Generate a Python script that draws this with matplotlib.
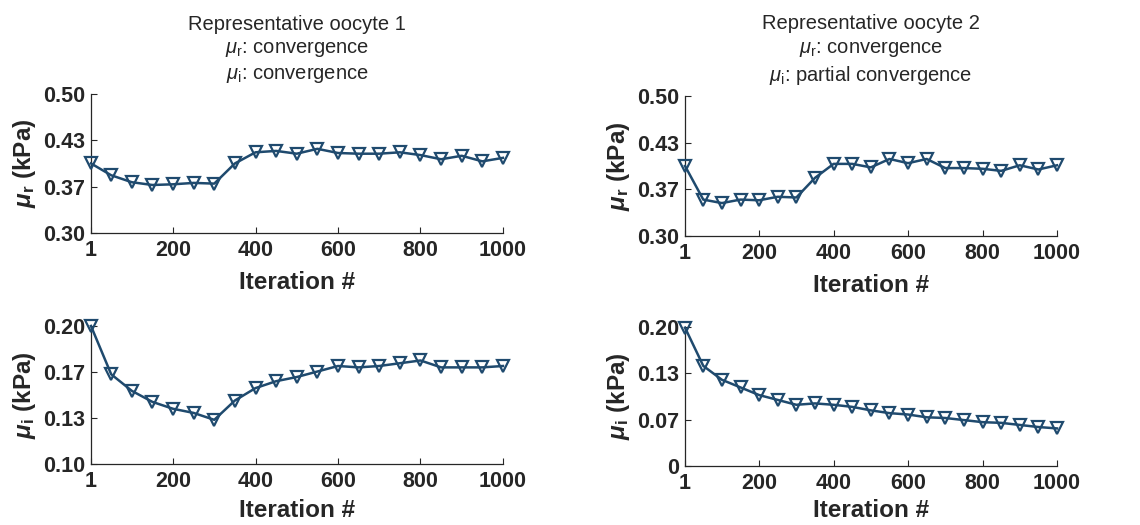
"""Convergence of mu_r and mu_i over inversion iterations for two representative oocytes."""

import matplotlib

matplotlib.use("Agg")
import matplotlib.pyplot as plt
import numpy as np

LINE = "#1f4a6e"
INK = "#262626"

iterations = [1] + list(range(50, 1001, 50))

mu_r_oocyte1 = [0.400, 0.383, 0.373, 0.369, 0.370, 0.372, 0.371, 0.400, 0.416, 0.418, 0.414,
                0.421, 0.415, 0.414, 0.414, 0.416, 0.412, 0.406, 0.411, 0.403, 0.408]
mu_i_oocyte1 = [0.200, 0.165, 0.153, 0.145, 0.140, 0.137, 0.132, 0.146, 0.155, 0.160, 0.163,
                0.167, 0.171, 0.170, 0.171, 0.173, 0.175, 0.170, 0.170, 0.170, 0.171]
mu_r_oocyte2 = [0.400, 0.352, 0.347, 0.352, 0.351, 0.356, 0.355, 0.383, 0.403, 0.403, 0.398,
                0.410, 0.404, 0.410, 0.397, 0.397, 0.396, 0.393, 0.401, 0.395, 0.401]
mu_i_oocyte2 = [0.199, 0.144, 0.124, 0.113, 0.102, 0.095, 0.088, 0.090, 0.088, 0.085, 0.080,
                0.076, 0.074, 0.070, 0.069, 0.066, 0.063, 0.062, 0.059, 0.056, 0.054]

x_ticks = [1, 200, 400, 600, 800, 1000]
mu_r_ticks = [0.30, 0.30 + 0.2 / 3, 0.30 + 0.4 / 3, 0.50]
mu_r_ticklabels = ["0.30", "0.37", "0.43", "0.50"]
mu_i1_ticks = [0.10, 0.10 + 0.1 / 3, 0.10 + 0.2 / 3, 0.20]
mu_i1_ticklabels = ["0.10", "0.13", "0.17", "0.20"]
mu_i2_ticks = [0.0, 0.2 / 3, 0.4 / 3, 0.20]
mu_i2_ticklabels = ["0", "0.07", "0.13", "0.20"]

titles = [
    "Representative oocyte 1\n$\\mu_\\mathrm{r}$: convergence\n$\\mu_\\mathrm{i}$: convergence",
    "Representative oocyte 2\n$\\mu_\\mathrm{r}$: convergence\n$\\mu_\\mathrm{i}$: partial convergence",
]

plt.rcParams.update(
    {
        "font.family": "Liberation Sans",
        "mathtext.fontset": "custom",
        "mathtext.rm": "Liberation Sans",
        "mathtext.it": "Liberation Sans:italic",
        "mathtext.bf": "Liberation Sans:bold",
        "mathtext.bfit": "Liberation Sans:bold:italic",
        "axes.edgecolor": INK,
        "xtick.color": INK,
        "ytick.color": INK,
        "text.color": INK,
        "axes.labelcolor": INK,
    }
)


def style_axis(ax, yticks, yticklabels, ylim, ylabel, xlabelpad=7):
    ax.set_xlim(1, 1000)
    ax.set_ylim(*ylim)
    ax.set_xticks(x_ticks)
    ax.set_xticklabels([str(t) for t in x_ticks])
    ax.set_yticks(yticks)
    ax.set_yticklabels(yticklabels)
    ax.tick_params(direction="in", length=4, width=0.8, labelsize=15.5)
    ax.tick_params(axis="x", pad=5)
    ax.tick_params(axis="y", pad=4)
    for lab in ax.get_xticklabels() + ax.get_yticklabels():
        lab.set_fontweight("bold")
    for side in ("top", "right"):
        ax.spines[side].set_visible(False)
    for side in ("left", "bottom"):
        ax.spines[side].set_linewidth(0.9)
    ax.set_xlabel("Iteration #", fontsize=17.5, fontweight="bold", labelpad=xlabelpad)
    ax.set_ylabel(ylabel, fontsize=17.5, fontweight="bold", labelpad=4)


def plot_series(ax, y):
    ax.plot(iterations, y, color=LINE, linewidth=1.8, marker="v", markersize=8,
            markerfacecolor="none", markeredgecolor=LINE, markeredgewidth=1.6,
            clip_on=False, zorder=3)


fig = plt.figure(figsize=(11.4, 5.25), dpi=100)
ax_r1 = fig.add_axes([0.0798, 0.5562, 0.3614, 0.265])
ax_i1 = fig.add_axes([0.0798, 0.1162, 0.3614, 0.2629])
ax_r2 = fig.add_axes([0.6009, 0.5505, 0.3263, 0.2667])
ax_i2 = fig.add_axes([0.6009, 0.1125, 0.3263, 0.2647])

label_r = "$\\mathbfit{\\mu}_\\mathbf{r}$ (kPa)"
label_i = "$\\mathbfit{\\mu}_\\mathbf{i}$ (kPa)"

plot_series(ax_r1, mu_r_oocyte1)
style_axis(ax_r1, mu_r_ticks, mu_r_ticklabels, (0.30, 0.50), label_r)
plot_series(ax_i1, mu_i_oocyte1)
style_axis(ax_i1, mu_i1_ticks, mu_i1_ticklabels, (0.10, 0.20), label_i, xlabelpad=5)
plot_series(ax_r2, mu_r_oocyte2)
style_axis(ax_r2, mu_r_ticks, mu_r_ticklabels, (0.30, 0.50), label_r)
plot_series(ax_i2, mu_i_oocyte2)
style_axis(ax_i2, mu_i2_ticks, mu_i2_ticklabels, (0.0, 0.20), label_i, xlabelpad=4)

ax_r1.set_title(titles[0], fontsize=14.5, linespacing=1.3, pad=11)
ax_r2.set_title(titles[1], fontsize=14.5, linespacing=1.3, pad=11)

fig.savefig("out.png", dpi=100, facecolor="white")
